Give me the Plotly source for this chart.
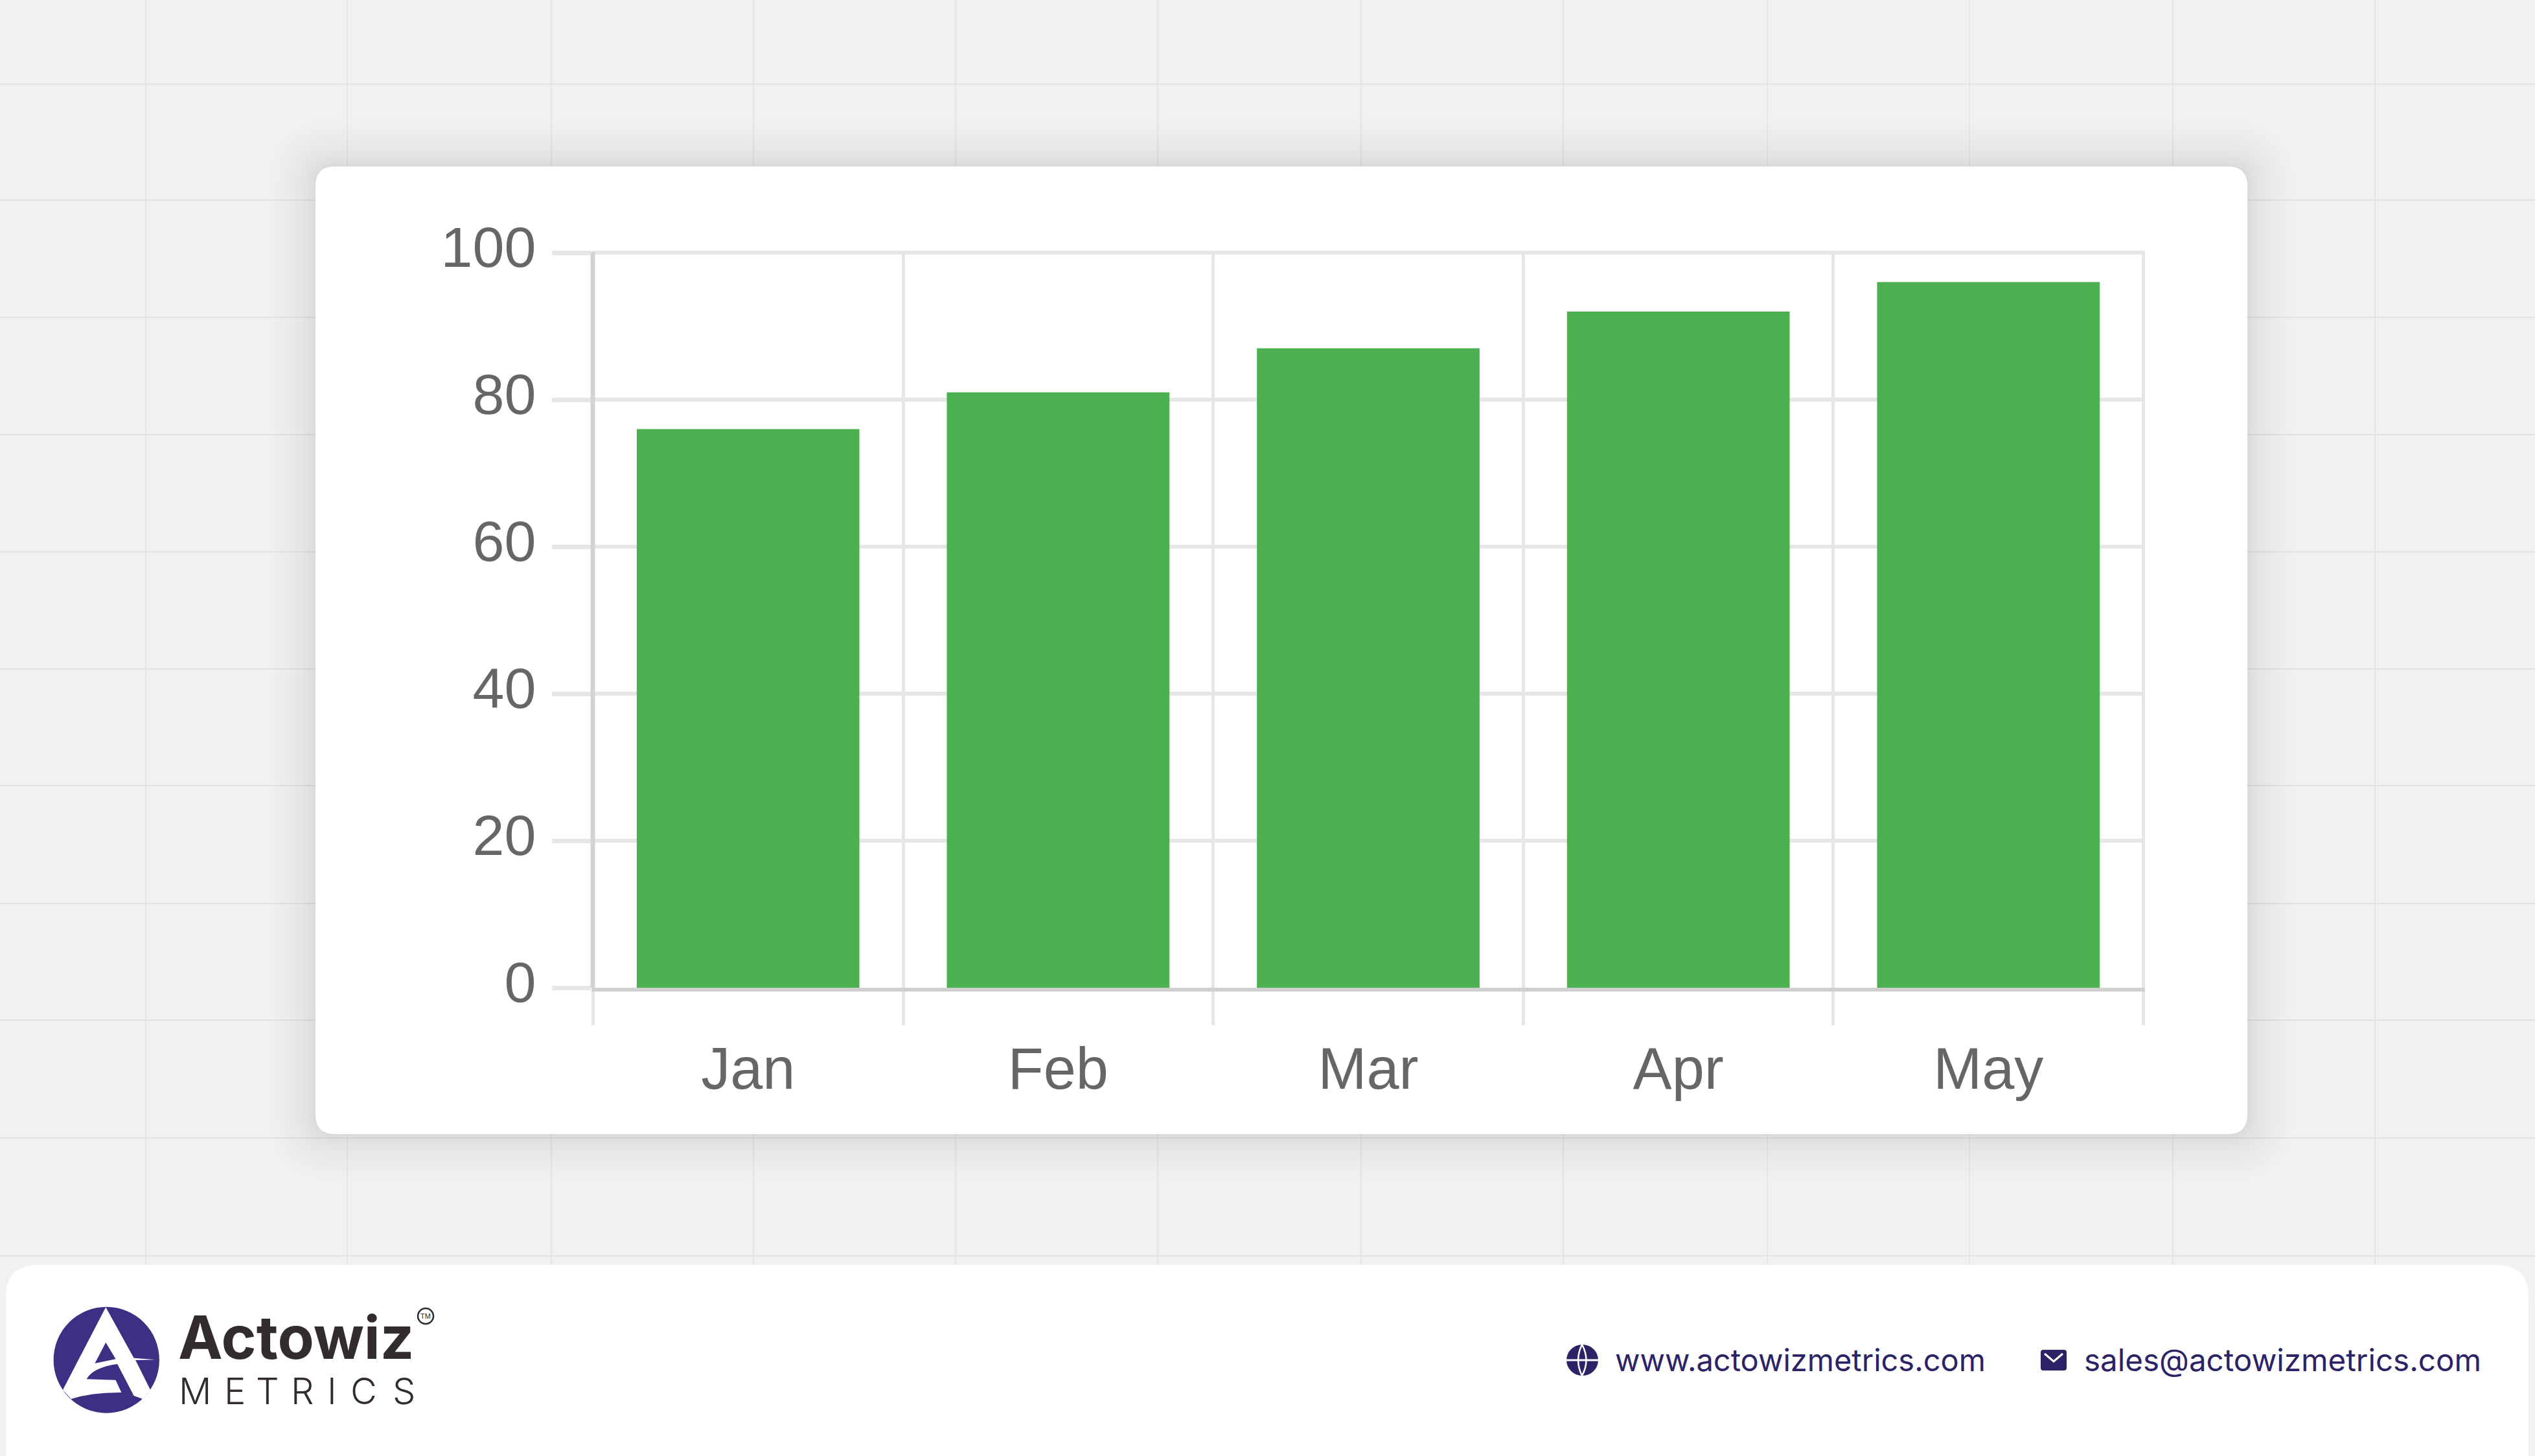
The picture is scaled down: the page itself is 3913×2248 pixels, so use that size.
import plotly.graph_objects as go

W, H = 3913, 2248

# ---- chart data ----
months = ["Jan", "Feb", "Mar", "Apr", "May"]
values = [76, 81, 87, 92, 96]
y_ticks = [0, 20, 40, 60, 80, 100]

# ---- page text ----
brand_word = "Actowiz"
brand_sub = "METRICS"
website = "www.actowizmetrics.com"
email = "sales@actowizmetrics.com"

# ---- page decoration (pixels in the page) ----
bg_grid_x = [225, 536, 851, 1163, 1475, 1787, 2101, 2413, 2728, 3040, 3354, 3666]
bg_grid_y = [130, 309, 490, 671, 852, 1033, 1213, 1395, 1575, 1757, 1939]
card_box = (487, 257, 3469, 1751)
footer_box = (9, 1953, 3903, 2300)
plot_left, plot_right, plot_top, plot_bottom = 915, 3311, 389, 1525

GREEN = "#4caf50"
INK = "#2c2266"
LOGO = "#3b3084"


def fx(x):
    return x / W


def fy(y):
    return 1 - y / H


def pt(x, y):
    return f"{fx(x):.6f},{fy(y):.6f}"


def round_rect(l, t, r, b, rad):
    return (
        f"M{pt(l + rad, t)} L{pt(r - rad, t)} Q{pt(r, t)} {pt(r, t + rad)} "
        f"L{pt(r, b - rad)} Q{pt(r, b)} {pt(r - rad, b)} "
        f"L{pt(l + rad, b)} Q{pt(l, b)} {pt(l, b - rad)} "
        f"L{pt(l, t + rad)} Q{pt(l, t)} {pt(l + rad, t)} Z"
    )


def logo_xy(zx, zy):
    return zx / 1.96, 1900 + zy / 3


def logo_path(cmds):
    out = []
    for c in cmds:
        letter = c[0]
        coords = c[1:]
        if letter == "L":
            for p in coords:
                out.append("L" + pt(*logo_xy(*p)))
        else:
            out.append(letter + " ".join(pt(*logo_xy(*p)) for p in coords))
    return " ".join(out) + " Z"


shapes = []


def add_path(path, fill):
    shapes.append(dict(type="path", xref="paper", yref="paper", path=path,
                       fillcolor=fill, line=dict(width=0), layer="below"))


for x in bg_grid_x:
    shapes.append(dict(type="line", xref="paper", yref="paper", x0=fx(x), x1=fx(x), y0=0, y1=1,
                       line=dict(color="#e0e0e0", width=1.5), layer="below"))
for y in bg_grid_y:
    shapes.append(dict(type="line", xref="paper", yref="paper", x0=0, x1=1, y0=fy(y), y1=fy(y),
                       line=dict(color="#e3e3e3", width=2), layer="below"))

# soft card shadow
n_layers = 26
for i in range(n_layers, 0, -1):
    e = 72 * (i / n_layers) ** 2
    l, t, r, b = card_box
    add_path(round_rect(l - e, t - e, r + e, b + e, 30 + e), "rgba(0,0,0,0.0056)")

add_path(round_rect(*card_box, 30), "#ffffff")
add_path(round_rect(*footer_box, 50), "#ffffff")

# logo
cx0, cy0 = logo_xy(162, 353)
cx1, cy1 = logo_xy(482, 845)
shapes.append(dict(type="circle", xref="paper", yref="paper", x0=fx(cx0), x1=fx(cx1),
                   y0=fy(cy1), y1=fy(cy0), fillcolor=LOGO, line=dict(width=0), layer="below"))
add_path(logo_path([
    ("M", (320, 355)), ("L", (190, 738), (215, 780)),
    ("Q", (280, 748), (368, 750)),
    ("L", (405, 765), (432, 780), (455, 738), (410, 600), (470, 598), (405, 590)),
]), "#ffffff")
add_path(logo_path([("M", (320, 518)), ("L", (287, 615), (350, 595))]), LOGO)
add_path(logo_path([
    ("M", (355, 618)), ("Q", (280, 635), (262, 688)),
    ("L", (350, 692), (368, 752), (405, 765)),
]), LOGO)
shapes.append(dict(type="circle", xref="paper", yref="paper", x0=fx(645), x1=fx(669),
                   y0=fy(2044), y1=fy(2020), fillcolor="#ffffff",
                   line=dict(color="#2f2a2b", width=2.5), layer="below"))

# globe icon
shapes.append(dict(type="circle", xref="paper", yref="paper", x0=fx(2418), x1=fx(2467),
                   y0=fy(2124), y1=fy(2076), fillcolor=INK, line=dict(width=0), layer="below"))
shapes.append(dict(type="rect", xref="paper", yref="paper", x0=fx(2418), x1=fx(2467),
                   y0=fy(2101.5), y1=fy(2098.5), fillcolor="#ffffff", line=dict(width=0), layer="below"))
for q in [2430, 2455]:
    shapes.append(dict(type="path", xref="paper", yref="paper",
                       path=f"M{pt(2442, 2076)} Q{pt(q, 2100)} {pt(2442, 2124)}",
                       line=dict(color="#ffffff", width=2.5), layer="below"))

# mail icon
add_path(round_rect(3150, 2084, 3190, 2116, 4), INK)
shapes.append(dict(type="path", xref="paper", yref="paper",
                   path=f"M{pt(3156, 2090)} L{pt(3170, 2102)} L{pt(3184, 2090)}",
                   line=dict(color="#ffffff", width=3), layer="below"))

# darker left axis rule, drawn on the boundary of the first category
shapes.append(dict(type="line", xref="paper", yref="paper", x0=fx(915), x1=fx(915),
                   y0=fy(plot_bottom), y1=fy(plot_top),
                   line=dict(color="#d3d3d3", width=7), layer="above"))

annotations = [
    dict(text=brand_word, x=fx(275), y=fy(2120), xanchor="left", yanchor="bottom",
         font=dict(family="Inter", size=92, color="#332c2e", weight=700)),
    dict(text="TM", x=fx(657), y=fy(2032), xanchor="center", yanchor="middle",
         font=dict(family="Liberation Sans", size=11, color="#2f2a2b")),
    dict(text=website, x=fx(2493), y=fy(2099), xanchor="left", yanchor="middle",
         font=dict(family="Inter", size=47, color=INK)),
    dict(text=email, x=fx(3217), y=fy(2099), xanchor="left", yanchor="middle",
         font=dict(family="Inter", size=47.5, color=INK)),
]
sub_centers = [301, 362, 413, 467, 512, 561, 623]
for ch, x in zip(brand_sub, sub_centers):
    annotations.append(dict(text=ch, x=fx(x), y=fy(2148), xanchor="center", yanchor="middle",
                            font=dict(family="Inter", size=56, color="#332c2e", weight=300)))
for a in annotations:
    a.update(xref="paper", yref="paper", showarrow=False, borderpad=0, borderwidth=0)

fig = go.Figure(go.Bar(x=months, y=values, marker=dict(color=GREEN, line=dict(width=0)), showlegend=False))

fig.update_layout(
    width=W, height=H, autosize=False,
    margin=dict(l=0, r=0, t=0, b=0, pad=0),
    paper_bgcolor="#f1f1f1", plot_bgcolor="rgba(0,0,0,0)",
    bargap=0.282, shapes=shapes, annotations=annotations,
    font=dict(family="Liberation Sans", color="#666666"),
    xaxis=dict(domain=[fx(plot_left - 2), fx(plot_right)], type="category", range=[-0.505, 4.505],
               automargin=False,
               tickson="boundaries", ticks="outside", ticklen=52, tickwidth=5, tickcolor="#e6e6e6",
               showgrid=True, gridcolor="#e6e6e6", gridwidth=5,
               showline=True, linecolor="#d0d0d0", linewidth=6, zeroline=False,
               tickfont=dict(size=90, color="#666666"), ticklabelstandoff=42, fixedrange=True),
    yaxis=dict(domain=[fy(plot_bottom), fy(plot_top)], range=[0, 100.1], tickmode="array",
               automargin=False,
               tickvals=y_ticks, ticktext=[str(v) for v in y_ticks],
               ticks="outside", ticklen=60, tickwidth=7, tickcolor="#e6e6e6",
               showgrid=True, gridcolor="#e6e6e6", gridwidth=6,
               showline=False, zeroline=False,
               tickfont=dict(size=88, color="#666666"), ticklabelstandoff=7, ticklabelshift=-9,
               fixedrange=True),
)

fig.write_html("out.html", config=dict(displayModeBar=False),
               post_script="document.body.style.margin='0';document.body.style.overflow='hidden';")
